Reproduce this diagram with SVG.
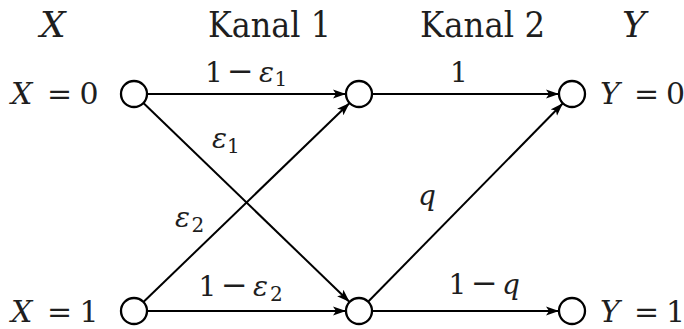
<svg xmlns="http://www.w3.org/2000/svg" width="684" height="329" viewBox="0 0 684 329">
<style>
text{font-family:'DejaVu Serif',serif;fill:#1e1e1e}
.it{font-style:italic}
.hd{font-size:36px}
.nl{font-size:30px}
.el{font-size:28px}
.sub{font-size:20px}
.op{font-size:32px}
.node{fill:#fff;stroke:#000;stroke-width:2.3}
.edge{stroke:#000;stroke-width:2;fill:none;marker-end:url(#arr)}
</style>
<defs>
<marker id="arr" viewBox="0 0 13 10" refX="13" refY="5" markerWidth="13" markerHeight="10" markerUnits="userSpaceOnUse" orient="auto">
<path d="M0,0.5 L13,5 L0,9.5 L3,5 z" fill="#000"/>
</marker>
</defs>
<rect width="684" height="329" fill="#fff"/>
<g id="headers">
<text class="hd it" x="40" y="36.7">X</text>
<text class="hd" x="208" y="36.7" textLength="123" lengthAdjust="spacingAndGlyphs">Kanal 1</text>
<text class="hd" x="420" y="36.7" textLength="125" lengthAdjust="spacingAndGlyphs">Kanal 2</text>
<text class="hd it" x="622" y="36.7">Y</text>
</g>
<g id="connectors">
<line class="edge" x1="147" y1="94" x2="346" y2="94"/>
<line class="edge" x1="143.4" y1="103" x2="349.6" y2="302"/>
<line class="edge" x1="143.4" y1="302" x2="349.6" y2="103"/>
<line class="edge" x1="147" y1="311" x2="346" y2="311"/>
<line class="edge" x1="372" y1="94" x2="559" y2="94"/>
<line class="edge" x1="368.1" y1="301.7" x2="562.9" y2="103.3"/>
<line class="edge" x1="372" y1="311" x2="559" y2="311"/>
</g>
<g id="edge-labels">
<text class="el"><tspan x="205" y="81.7">1</tspan><tspan class="op" x="227" y="81.7">−</tspan><tspan class="it" x="259" y="81.7">ε</tspan><tspan class="sub" x="274.5" y="86">1</tspan></text>
<text class="el" x="450" y="81.7">1</text>
<text class="el"><tspan class="it" x="212" y="148.3">ε</tspan><tspan class="sub" x="227" y="153.3">1</tspan></text>
<text class="el"><tspan class="it" x="175" y="226.5">ε</tspan><tspan class="sub" x="191.5" y="231.7">2</tspan></text>
<text class="el it" x="418" y="205">q</text>
<text class="el"><tspan x="198.5" y="296">1</tspan><tspan class="op" x="221" y="296">−</tspan><tspan class="it" x="253" y="296">ε</tspan><tspan class="sub" x="270" y="300.5">2</tspan></text>
<text class="el"><tspan x="448.5" y="294">1</tspan><tspan class="op" x="471" y="294">−</tspan><tspan class="it" x="502" y="294">q</tspan></text>
</g>
<g id="n-x0">
<circle class="node" cx="134" cy="94" r="13"/>
<text class="nl"><tspan class="it" x="11" y="104">X</tspan><tspan x="47" y="104">=</tspan><tspan x="79.5" y="104">0</tspan></text>
</g>
<g id="n-x1">
<circle class="node" cx="134" cy="311" r="13"/>
<text class="nl"><tspan class="it" x="11" y="322">X</tspan><tspan x="47" y="322">=</tspan><tspan x="79.5" y="322">1</tspan></text>
</g>
<g id="n-m0">
<circle class="node" cx="359" cy="94" r="13"/>
</g>
<g id="n-m1">
<circle class="node" cx="359" cy="311" r="13"/>
</g>
<g id="n-y0">
<circle class="node" cx="572" cy="94" r="13"/>
<text class="nl"><tspan class="it" x="600" y="104">Y</tspan><tspan x="634" y="104">=</tspan><tspan x="666" y="104">0</tspan></text>
</g>
<g id="n-y1">
<circle class="node" cx="572" cy="311" r="13"/>
<text class="nl"><tspan class="it" x="600" y="322">Y</tspan><tspan x="634" y="322">=</tspan><tspan x="666" y="322">1</tspan></text>
</g>
</svg>
